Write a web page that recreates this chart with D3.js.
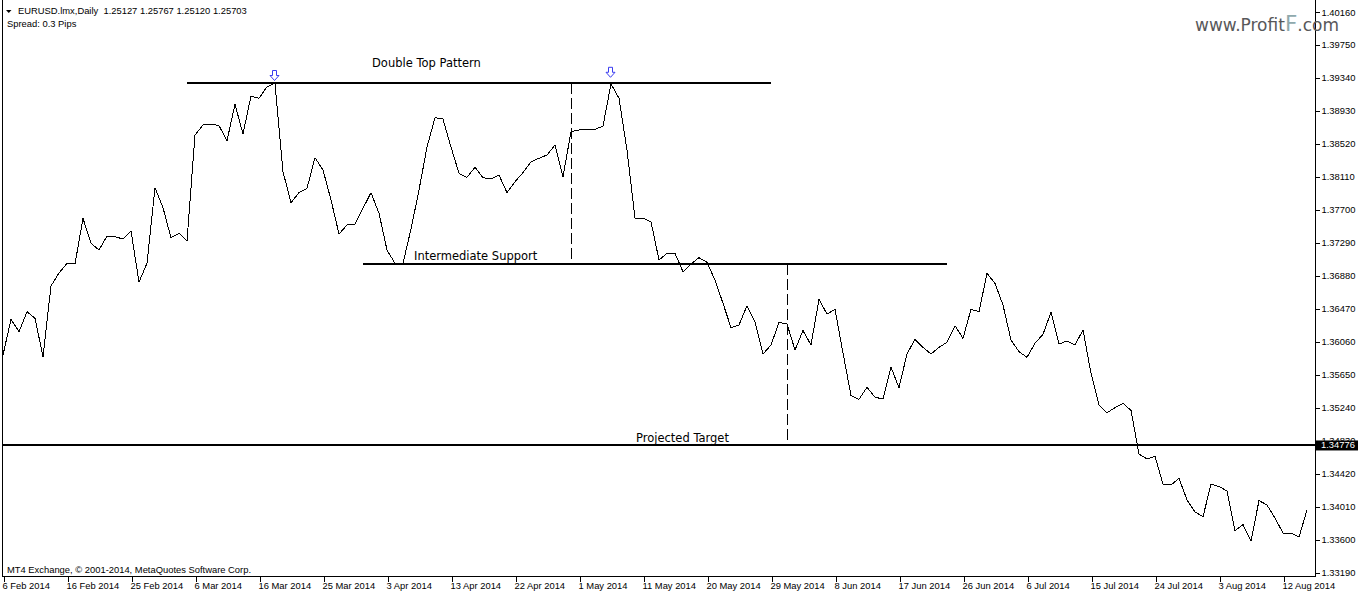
<!DOCTYPE html>
<html>
<head>
<meta charset="utf-8">
<script src="https://cdnjs.cloudflare.com/ajax/libs/d3/7.8.5/d3.min.js"></script>
<style>
  html, body { margin: 0; padding: 0; background: #ffffff; }
  svg { display: block; }
  .sys { font-family: "Liberation Sans", Arial, sans-serif; font-size: 9.4px; fill: #000; }
  .note { font-family: "DejaVu Sans", Verdana, sans-serif; font-size: 11.5px; fill: #000; }
</style>
</head>
<body>
<svg id="chart" width="1358" height="594"></svg>
<script>
// ---------------- data ----------------
const symbolTitle = "EURUSD.lmx,Daily  1.25127 1.25767 1.25120 1.25703";
const spreadText = "Spread: 0.3 Pips";
const copyrightText = "MT4 Exchange, \u00A9 2001-2014, MetaQuotes Software Corp.";
const firstDate = "2014-02-06";

// daily closes, EURUSD (one value per trading bar, Sunday bars included)
const closes = [
  1.35895, 1.36339, 1.36184, 1.36433, 1.36351, 1.35874, 1.36753, 1.36914, 1.37035, 1.37026,
  1.37595, 1.37284, 1.37200, 1.37374, 1.37366, 1.37337, 1.37440, 1.36802, 1.37035, 1.37975,
  1.37726, 1.37353, 1.37408, 1.37312, 1.38630, 1.38755, 1.38767, 1.38746, 1.38559, 1.39012,
  1.38643, 1.39115, 1.39087, 1.39231, 1.39273, 1.38174, 1.37789, 1.37913, 1.37968, 1.38348,
  1.38195, 1.37822, 1.37399, 1.37511, 1.37524, 1.37719, 1.37913, 1.37657, 1.37200, 1.37035,
  1.37035, 1.37461, 1.37946, 1.38481, 1.38845, 1.38829, 1.38481, 1.38154, 1.38104, 1.38229,
  1.38099, 1.38083, 1.38133, 1.37913, 1.38050, 1.38162, 1.38298, 1.38341, 1.38382, 1.38506,
  1.38112, 1.38671, 1.38693, 1.38701, 1.38701, 1.38742, 1.39265, 1.39087, 1.38444, 1.37595,
  1.37595, 1.37552, 1.37076, 1.37159, 1.37159, 1.36930, 1.37026, 1.37105, 1.37047, 1.36827,
  1.36538, 1.36234, 1.36268, 1.36508, 1.36309, 1.35907, 1.36019, 1.36301, 1.36280, 1.35957,
  1.36199, 1.36019, 1.36587, 1.36404, 1.36463, 1.35920, 1.35389, 1.35344, 1.35493, 1.35369,
  1.35348, 1.35742, 1.35488, 1.35907, 1.36090, 1.35990, 1.35907, 1.35990, 1.36053, 1.36259,
  1.36102, 1.36463, 1.36433, 1.36911, 1.36786, 1.36516, 1.36081, 1.35936, 1.35866, 1.36040,
  1.36152, 1.36426, 1.36031, 1.36069, 1.36019, 1.36206, 1.35667, 1.35273, 1.35177, 1.35239,
  1.35294, 1.35205, 1.34664, 1.34601, 1.34633, 1.34291, 1.34278, 1.34361, 1.34092, 1.33942,
  1.33884, 1.34288, 1.34259, 1.34204, 1.33709, 1.33786, 1.33582, 1.34085, 1.34029, 1.33868,
  1.33681, 1.33681, 1.33631, 1.33967
];

const yTicks = [1.40160, 1.39750, 1.39340, 1.38930, 1.38520, 1.38110, 1.37700, 1.37290, 1.36880,
  1.36470, 1.36060, 1.35650, 1.35240, 1.34830, 1.34420, 1.34010, 1.33600, 1.33190];

const xTickLabels = ["6 Feb 2014", "16 Feb 2014", "25 Feb 2014", "6 Mar 2014", "16 Mar 2014",
  "25 Mar 2014", "3 Apr 2014", "13 Apr 2014", "22 Apr 2014", "1 May 2014", "11 May 2014",
  "20 May 2014", "29 May 2014", "8 Jun 2014", "17 Jun 2014", "26 Jun 2014", "6 Jul 2014",
  "15 Jul 2014", "24 Jul 2014", "3 Aug 2014", "12 Aug 2014"];

// horizontal pattern levels (price, from bar index, to bar index)
const levelNames  = ["Double Top", "Intermediate Support", "Projected Target"];
const levelPrices = [1.39277, 1.37026, 1.34776];
const levelFrom   = [23, 45, null];
const levelTo     = [96, 118, null];

// dashed measuring lines (bar index, top price, bottom price)
const measureBars   = [71, 98];
const measureTops   = [1.39277, 1.37026];
const measureBottoms = [1.37026, 1.34776];

// peak arrows (bar index, price of arrow tip)
const arrowBars   = [34, 76];
const arrowPrices = [1.39308, 1.39348];

// text annotations (label, bar index, baseline price)
const noteLabels = ["Double Top Pattern", "Intermediate Support", "Projected Target"];
const noteBars   = [46.125, 51.375, 79.125];
const notePrices = [1.39476, 1.37070, 1.34807];

const targetPrice = 1.34776;

// ---------------- build ----------------
const fmtDate = d3.utcFormat("%-d %b %Y");
const dates = [];
{
  let d = new Date(firstDate + "T00:00:00Z");
  while (dates.length < closes.length) {
    if (d.getUTCDay() !== 6) dates.push(new Date(d));
    d = new Date(d.getTime() + 86400000);
  }
}
const dateLabels = dates.map(fmtDate);

const W = 1358, H = 594;
const plotLeft = 3, axisX = 1315, axisY = 576.5;

const svg = d3.select("#chart");
svg.append("rect").attr("width", W).attr("height", H).attr("fill", "#fff");

const x = d3.scaleLinear().domain([0, closes.length - 1]).range([3, 1307]);
const y = d3.scaleLinear().domain([1.33190, 1.40160]).range([572.5, 12]);

const g = svg.append("g");

// frame
g.append("line").attr("x1", 2.5).attr("x2", 2.5).attr("y1", 0).attr("y2", axisY)
  .attr("stroke", "#000").attr("shape-rendering", "crispEdges");
g.append("line").attr("x1", axisX + 0.5).attr("x2", axisX + 0.5).attr("y1", 0).attr("y2", axisY + 0.5)
  .attr("stroke", "#000").attr("shape-rendering", "crispEdges");
g.append("line").attr("x1", 2.5).attr("x2", axisX + 0.5).attr("y1", axisY).attr("y2", axisY)
  .attr("stroke", "#000").attr("shape-rendering", "crispEdges");

// price line
const line = d3.line().x((d, i) => x(i)).y(d => y(d));
g.append("path").datum(closes).attr("d", line)
  .attr("fill", "none").attr("stroke", "#000").attr("stroke-width", 1)
  .attr("shape-rendering", "crispEdges");

// horizontal levels
levelPrices.forEach((p, k) => {
  const x1 = levelFrom[k] === null ? plotLeft : x(levelFrom[k]);
  const x2 = levelTo[k] === null ? axisX : x(levelTo[k]);
  g.append("line").attr("x1", x1).attr("x2", x2).attr("y1", y(p)).attr("y2", y(p))
    .attr("stroke", "#000").attr("stroke-width", 2).attr("shape-rendering", "crispEdges");
});

// dashed measuring lines
measureBars.forEach((b, k) => {
  g.append("line").attr("x1", x(b) + 0.5).attr("x2", x(b) + 0.5)
    .attr("y1", y(measureTops[k])).attr("y2", y(measureBottoms[k]))
    .attr("stroke", "#000").attr("stroke-width", 1).attr("stroke-dasharray", "11,4")
    .attr("shape-rendering", "crispEdges");
});

// arrows
arrowBars.forEach((b, k) => {
  const cx = Math.round(x(b)) - 0.5, tip = y(arrowPrices[k]);
  const top = tip - 10;
  const p = `M${cx - 2},${top} L${cx + 2},${top} L${cx + 2},${top + 5} L${cx + 4.5},${top + 5} L${cx},${tip} L${cx - 4.5},${top + 5} L${cx - 2},${top + 5} Z`;
  g.append("path").attr("d", p).attr("fill", "#fff").attr("stroke", "#3a3cf0").attr("stroke-width", 1);
});

// annotations
noteLabels.forEach((t, k) => {
  g.append("text").attr("class", "note").attr("x", x(noteBars[k])).attr("y", y(notePrices[k])).text(t);
});

// y axis
const yAxis = d3.axisRight(y).tickValues(yTicks).tickSize(4).tickPadding(2).tickFormat(d3.format(".5f"));
const ya = svg.append("g").attr("transform", `translate(${axisX + 0.5},0)`).call(yAxis);
ya.select(".domain").remove();
ya.attr("font-family", null).attr("font-size", null);
ya.selectAll("line").attr("stroke", "#000").attr("shape-rendering", "crispEdges");
ya.selectAll("text").attr("class", "sys").attr("fill", "#000");

// target price tag (covers part of the neighbouring tick label, as in the terminal)
const tag = svg.append("g");
tag.append("rect").attr("x", axisX + 1).attr("y", y(targetPrice) - 4.5).attr("width", W - axisX - 1).attr("height", 10).attr("fill", "#000");
tag.append("text").attr("class", "sys").attr("x", 1321).attr("y", y(targetPrice) + 3.5)
  .style("fill", "#fff").text(d3.format(".5f")(targetPrice));

// x axis
const tickIdx = xTickLabels.map(l => dateLabels.indexOf(l));
const xAxis = d3.axisBottom(x).tickValues(tickIdx).tickSize(5).tickPadding(0.5)
  .tickFormat(i => dateLabels[i]);
const xa = svg.append("g").attr("transform", `translate(0.5,${axisY})`).call(xAxis);
xa.select(".domain").remove();
xa.attr("font-family", null).attr("font-size", null);
xa.selectAll("line").attr("stroke", "#000").attr("shape-rendering", "crispEdges");
xa.selectAll("text").attr("class", "sys").attr("text-anchor", "start").attr("dx", -1.5);

// header texts
svg.append("path").attr("d", "M6,10 L11.5,10 L8.75,13 Z").attr("fill", "#000");
svg.append("text").attr("class", "sys").attr("x", 18).attr("y", 14).style("white-space", "pre").text(symbolTitle);
svg.append("text").attr("class", "sys").attr("x", 7).attr("y", 27).text(spreadText);
svg.append("text").attr("class", "sys").attr("x", 7).attr("y", 572.5).text(copyrightText);

// logo
const logo = svg.append("text").attr("x", 1195).attr("y", 31)
  .attr("font-family", "DejaVu Sans, Verdana, sans-serif").attr("font-size", 17).attr("fill", "#58585a");
logo.append("tspan").text("www.Profit");
logo.append("tspan").attr("font-size", 21.5).attr("fill", "#8fa9ad").text("F");
logo.append("tspan").text(".com");
</script>
</body>
</html>
